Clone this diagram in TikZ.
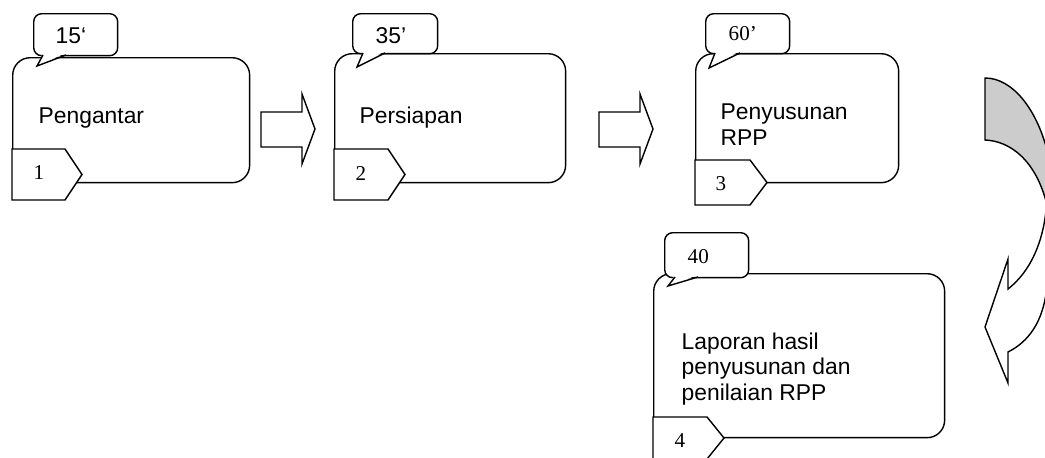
\documentclass[tikz,border=0pt]{standalone}
\usepackage{fontspec}
\setmainfont{Liberation Sans}
\newfontfamily\timesfont{Liberation Serif}

\tikzset{
    stepbox/.style={draw, line width=0.8pt, fill=white, rounded corners=0.35cm, anchor=north west, inner sep=0pt},
    timebox/.style={draw, line width=0.8pt, fill=white, rounded corners=0.16cm, anchor=north west, inner sep=0pt},
    steptext/.style={anchor=base west, inner sep=0pt, align=left, font=\fontsize{13}{14.5}\selectfont},
    numtext/.style={anchor=base west, inner sep=0pt, font=\timesfont\fontsize{12}{14}\selectfont},
}

\begin{document}
\begin{tikzpicture}[x=0.02cm, y=-0.02cm, line width=0.8pt, line join=miter]
    \useasboundingbox (0,0) rectangle (1045,457);
    \clip (0,0) rectangle (1045,457);

    % steps
    \node[stepbox, minimum width=4.74cm, minimum height=2.5cm] (box1) at (12,57) {};
    \node[stepbox, minimum width=4.62cm, minimum height=2.58cm] (box2) at (334,53) {};
    \node[stepbox, minimum width=4.06cm, minimum height=2.58cm] (box3) at (695,53) {};
    \node[stepbox, minimum width=5.82cm, minimum height=3.28cm] (box4) at (653,273) {};

    % time callouts
    \node[timebox, minimum width=1.68cm, minimum height=0.84cm] (time1) at (33,13) {};
    \node[timebox, minimum width=1.7cm, minimum height=0.8cm] (time2) at (352,13) {};
    \node[timebox, minimum width=1.68cm, minimum height=0.8cm] (time3) at (705,13) {};
    \node[timebox, minimum width=1.68cm, minimum height=0.9cm] (time4) at (664,232) {};

    \fill[white] (43,53) -- (37,66) -- (66,53) -- cycle;
    \draw (43,55) -- (37,66) -- (66,55);
    \fill[white] (363,51) -- (357,67) -- (385,51) -- cycle;
    \draw (363,53) -- (357,67) -- (385,53);
    \fill[white] (715,51) -- (709,68) -- (740,51) -- cycle;
    \draw (715,53) -- (709,68) -- (740,53);
    \fill[white] (675,275) -- (668,286) -- (698,275) -- cycle;
    \draw (675,277) -- (668,286) -- (698,277);

    % number tags
    \foreach \px/\py/\pw/\ph in {12/149/53/51, 334/149/54/51, 695/160/55/45, 653/417/54/42}{
        \draw[fill=white] (\px,\py) -- ++(\pw,0) -- ++(17,\ph/2) -- ++(-17,\ph/2) -- ++(-\pw,0) -- cycle;
    }

    % block arrows
    \foreach \ax in {261,599}{
        \draw (\ax,112) -- ++(41,0) -- ++(0,-18) -- ++(13,35) -- ++(-13,35) -- ++(0,-17) -- ++(-41,0) -- cycle;
    }

    % curved arrow
    \draw[fill=black!20] (985,78) .. controls (1012,78) and (1036,108) .. (1047,150)
        -- (1047,205) .. controls (1036,160) and (1010,141) .. (985,140) -- cycle;
    \draw[fill=white] (1047,195) .. controls (1046,240) and (1030,272) .. (1008,289)
        -- (1008,259) -- (985,327) -- (1008,383) -- (1008,352)
        .. controls (1028,342) and (1044,322) .. (1047,285) -- cycle;

    % texts (base = last line)
    \node[steptext] (text1) at (38,123) {Pengantar};
    \node[steptext] (text2) at (359,123) {Persiapan};
    \node[steptext] (text3) at (720,145) {Penyusunan\\RPP};
    \node[steptext] (text4) at (681,400) {Laporan hasil\\penyusunan dan\\penilaian RPP};

    \node[steptext] (min1) at (55,43) {15‘};
    \node[steptext] (min2) at (375,43) {35’};
    \node[numtext] (min3) at (728,40) {60’};
    \node[numtext] (min4) at (687,263) {40};

    \node[numtext] (num1) at (33,179) {1};
    \node[numtext] (num2) at (355,180) {2};
    \node[numtext] (num3) at (715,190) {3};
    \node[numtext] (num4) at (674,447) {4};
\end{tikzpicture}
\end{document}
